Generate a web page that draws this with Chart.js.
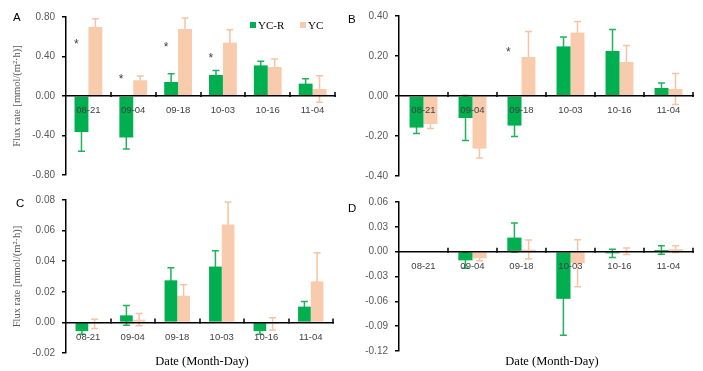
<!DOCTYPE html>
<html>
<head>
<meta charset="utf-8">
<script src="https://cdn.jsdelivr.net/npm/chart.js@4.4.0/dist/chart.umd.min.js"></script>
<style>
  body { margin: 0; background: #fff; }
  #wrap { position: relative; width: 703px; height: 371px; background: #fff; overflow: hidden; }
  canvas { position: absolute; }
  .lbl { position: absolute; font-family: "Liberation Sans", Arial, sans-serif; font-size: 11.5px; color: #000; line-height: 1; }
  .xt { position: absolute; font-family: "Liberation Serif", "Times New Roman", serif; font-size: 12.5px; color: #000; white-space: nowrap; transform: translate(-50%, -50%); }
  .leg { position: absolute; font-family: "Liberation Serif", "Times New Roman", serif; font-size: 11px; color: #000; line-height: 1; white-space: nowrap; }
  .sw { display: inline-block; width: 6px; height: 6px; margin-right: 2px; vertical-align: 1px; }
</style>
</head>
<body>
<div id="wrap">
  <canvas id="cA" width="345" height="190" style="left:0;top:0"></canvas>
  <canvas id="cB" width="358" height="190" style="left:345px;top:0"></canvas>
  <canvas id="cC" width="345" height="191" style="left:0;top:180px"></canvas>
  <canvas id="cD" width="358" height="191" style="left:345px;top:180px"></canvas>

  <div class="lbl" style="left:13px;top:12px">A</div>
  <div class="lbl" style="left:348px;top:14px">B</div>
  <div class="lbl" style="left:16px;top:198px">C</div>
  <div class="lbl" style="left:348px;top:203px">D</div>

  <div class="leg" style="left:250px;top:20px"><span class="sw" style="background:#00B050"></span>YC-R</div>
  <div class="leg" style="left:300px;top:20px"><span class="sw" style="background:#F8CBAD"></span>YC</div>

  <div class="xt" style="left:202px;top:361px">Date (Month-Day)</div>
  <div class="xt" style="left:552px;top:361px">Date (Month-Day)</div>
</div>
<script>
const dates = ['08-21', '09-04', '09-18', '10-03', '10-16', '11-04'];

// A
const ycrA = [-0.365, -0.42, 0.142, 0.213, 0.31, 0.125];
const ycrErrA = [0.195, 0.117, 0.084, 0.044, 0.041, 0.05];
const ycA = [0.70, 0.159, 0.678, 0.54, 0.294, 0.071];
const ycErrA = [0.083, 0.044, 0.112, 0.132, 0.081, 0.135];
const starsA = [0.54, 0.19, 0.51, 0.40, null, null];

// B
const ycrB = [-0.158, -0.11, -0.148, 0.248, 0.225, 0.04];
const ycrErrB = [0.029, 0.113, 0.055, 0.047, 0.107, 0.025];
const ycB = [-0.14, -0.263, 0.195, 0.317, 0.17, 0.035];
const ycErrB = [0.023, 0.047, 0.128, 0.056, 0.082, 0.077];
const starsB = [null, null, 0.225, null, null, null];

// C
const ycrC = [-0.0057, 0.0046, 0.0275, 0.0365, -0.0057, 0.0103];
const ycrErrC = [0.002, 0.0064, 0.0083, 0.0103, 0.002, 0.0033];
const ycC = [-0.001, 0.0018, 0.0174, 0.064, -0.001, 0.0268];
const ycErrC = [0.003, 0.004, 0.0072, 0.0147, 0.004, 0.0187];

// D
const ycrD = [0, -0.0105, 0.017, -0.057, -0.002, 0.002];
const ycrErrD = [0, 0.0095, 0.0175, 0.044, 0.005, 0.005];
const ycD = [0, -0.008, 0.0025, -0.014, 0.0005, 0.003];
const ycErrD = [0, 0.003, 0.0115, 0.0285, 0.004, 0.004];

const GREEN = '#00B050', PEACH = '#F8CBAD';
const yTitle = 'Flux rate [mmol/(m\u00B2\u00B7h)]';

// error bars, drawn behind the bars
const errorBars = {
  id: 'errorBars',
  beforeDatasetsDraw(chart) {
    const ctx = chart.ctx, ys = chart.scales.y;
    chart.data.datasets.forEach((ds, di) => {
      const meta = chart.getDatasetMeta(di);
      meta.data.forEach((el, i) => {
        const v = ds.data[i], e = ds.err[i];
        if (!e) return;
        const y1 = ys.getPixelForValue(v + e), y2 = ys.getPixelForValue(v - e);
        ctx.save();
        ctx.strokeStyle = ds.errColor;
        ctx.lineWidth = 1.5;
        ctx.beginPath();
        ctx.moveTo(el.x, y1); ctx.lineTo(el.x, y2);
        ctx.moveTo(el.x - 3.5, y1); ctx.lineTo(el.x + 3.5, y1);
        ctx.moveTo(el.x - 3.5, y2); ctx.lineTo(el.x + 3.5, y2);
        ctx.stroke();
        ctx.restore();
      });
    });
  }
};

// small upward tick marks between categories, and significance stars
const extras = {
  id: 'extras',
  afterDraw(chart) {
    const ctx = chart.ctx, xs = chart.scales.x, ys = chart.scales.y;
    const y0 = ys.getPixelForValue(0);
    ctx.save();
    ctx.strokeStyle = '#000';
    ctx.lineWidth = 1.5;
    for (let i = 1; i <= dates.length; i++) {
      const px = Math.round(xs.getPixelForValue(i - 0.5));
      ctx.beginPath();
      ctx.moveTo(px, y0 - 4); ctx.lineTo(px, y0 + 1);
      ctx.stroke();
    }
    const stars = chart.options.plugins.extras.stars;
    if (stars) {
      const cw = xs.width / dates.length;
      ctx.fillStyle = '#404040';
      ctx.font = '12px "Liberation Sans", Arial, sans-serif';
      ctx.textAlign = 'center';
      ctx.textBaseline = 'middle';
      stars.forEach((s, i) => {
        if (s === null) return;
        ctx.fillText('*', xs.getPixelForValue(i) - 0.27 * cw, ys.getPixelForValue(s) + 2);
      });
    }
    ctx.restore();
  }
};

function makePanel(id, p) {
  new Chart(document.getElementById(id), {
    type: 'bar',
    data: {
      labels: dates,
      datasets: [
        { label: 'YC-R', data: p.ycr, err: p.ycrErr, backgroundColor: GREEN, errColor: '#20B25C',
          barPercentage: 1, categoryPercentage: p.cat },
        { label: 'YC', data: p.yc, err: p.ycErr, backgroundColor: PEACH, errColor: '#F6C4A2',
          barPercentage: 1, categoryPercentage: p.cat }
      ]
    },
    options: {
      responsive: false,
      animation: false,
      events: [],
      layout: { padding: p.pad },
      plugins: { legend: { display: false }, tooltip: { enabled: false }, extras: { stars: p.stars } },
      scales: {
        x: {
          position: { y: 0 },
          offset: true,
          grid: { display: false, drawTicks: false },
          border: { display: true, color: '#000', width: 1.5, z: 1 },
          ticks: { z: 1, padding: 9, color: '#404040', font: { family: '"Liberation Sans", Arial, sans-serif', size: 9.5 } }
        },
        y: {
          min: p.min, max: p.max,
          afterFit: s => { s.width = p.axisW; },
          grid: { drawOnChartArea: false, drawTicks: true, tickLength: 4, color: '#000', lineWidth: 1.5 },
          border: { display: true, color: '#000', width: 1.5 },
          ticks: { stepSize: p.step, padding: 7, color: '#595959',
                   font: { family: '"Liberation Sans", Arial, sans-serif', size: 10 },
                   callback: v => v.toFixed(2) },
          title: { display: !!p.title, text: p.title || '', color: '#595959',
                   padding: { top: 11, bottom: 0 },
                   font: { family: '"Liberation Serif", "Times New Roman", serif', size: 10.5 } }
        }
      }
    },
    plugins: [errorBars, extras]
  });
}

makePanel('cA', { ycr: ycrA, ycrErr: ycrErrA, yc: ycA, ycErr: ycErrA, stars: starsA,
  min: -0.8, max: 0.8, step: 0.4, title: yTitle, axisW: 66, cat: 0.62,
  pad: { left: 0, top: 17, right: 10, bottom: 15 } });
makePanel('cB', { ycr: ycrB, ycrErr: ycrErrB, yc: ycB, ycErr: ycErrB, stars: starsB,
  min: -0.4, max: 0.4, step: 0.2, title: null, axisW: 54, cat: 0.57,
  pad: { left: 0, top: 16, right: 10, bottom: 14 } });
makePanel('cC', { ycr: ycrC, ycrErr: ycrErrC, yc: ycC, ycErr: ycErrC, stars: null,
  min: -0.02, max: 0.08, step: 0.02, title: yTitle, axisW: 66, cat: 0.57,
  pad: { left: 0, top: 20, right: 12, bottom: 18 } });
makePanel('cD', { ycr: ycrD, ycrErr: ycrErrD, yc: ycD, ycErr: ycErrD, stars: null,
  min: -0.12, max: 0.06, step: 0.03, title: null, axisW: 54, cat: 0.58,
  pad: { left: 0, top: 22, right: 10, bottom: 20 } });
</script>
</body>
</html>
